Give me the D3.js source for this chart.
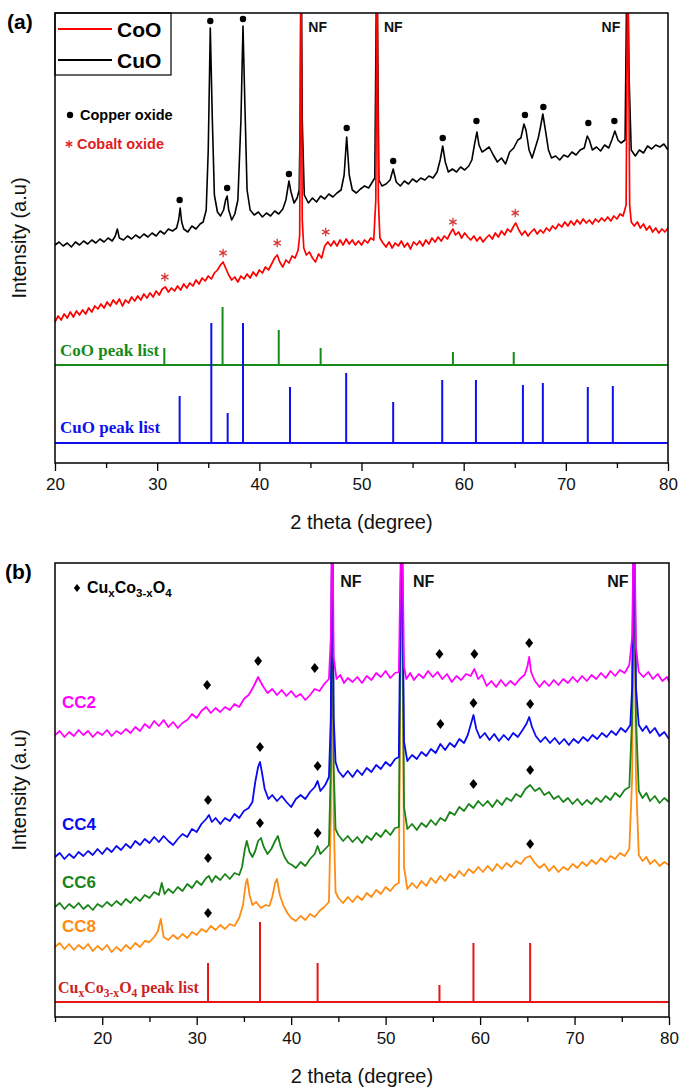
<!DOCTYPE html>
<html><head><meta charset="utf-8">
<script src="https://cdn.jsdelivr.net/npm/d3@7"></script>
<style>body{margin:0;background:#fff}</style>
</head><body>
<svg id="c" width="685" height="1090" xmlns="http://www.w3.org/2000/svg"></svg>
<script>
// ---------- DATA : panel (a) ----------
const ticksA = [20, 30, 40, 50, 60, 70, 80];
const minorTicksA = [25, 35, 45, 55, 65, 75];
const cuoPattern = [[20,218],[20.4,221],[20.8,217],[21.2,220],[21.6,216],[22,221],[22.4,218],[22.8,222],[23.2,219],[23.6,223],[24,220],[24.4,224],[24.8,221],[25.2,225],[25.6,222],[25.9,227],[26.1,234],[26.3,225],[26.7,223],[27.1,227],[27.5,224],[27.9,228],[28.3,225],[28.7,229],[29.1,226],[29.5,230],[29.9,227],[30.3,232],[30.7,229],[31.1,234],[31.5,232],[31.9,235],[32.1,243],[32.25,255],[32.4,241],[32.6,234],[33,231],[33.4,237],[33.8,234],[34.2,239],[34.5,241],[34.8,253],[35,313],[35.2,435],[35.4,343],[35.6,268],[35.9,251],[36.2,247],[36.5,253],[36.7,263],[36.85,267],[37,253],[37.3,243],[37.6,249],[37.9,263],[38.2,343],[38.4,437],[38.6,353],[38.8,273],[39.1,253],[39.5,248],[39.9,251],[40.3,246],[40.7,250],[41.1,247],[41.5,252],[41.9,249],[42.3,254],[42.6,263],[42.9,282],[43.1,271],[43.4,260],[43.7,265],[43.9,273],[44,343],[44.1,520],[44.2,343],[44.4,268],[44.8,260],[45.2,265],[45.6,261],[46,267],[46.4,264],[46.8,269],[47.2,266],[47.6,270],[48,273],[48.3,288],[48.55,326],[48.8,288],[49.1,273],[49.5,270],[49.9,274],[50.3,277],[50.7,275],[51,280],[51.3,285],[51.5,520],[51.7,283],[52,277],[52.4,279],[52.8,283],[53.1,294],[53.4,281],[53.8,277],[54.2,282],[54.6,279],[55,284],[55.4,281],[55.8,285],[56.2,283],[56.6,287],[57,285],[57.4,291],[57.7,303],[57.95,317],[58.2,301],[58.5,291],[58.9,294],[59.3,291],[59.7,296],[60.1,293],[60.5,297],[60.8,303],[61.05,318],[61.3,331],[61.5,318],[61.8,311],[62.1,313],[62.5,316],[62.9,308],[63.3,301],[63.7,305],[64.1,299],[64.5,311],[64.9,315],[65.3,323],[65.6,325],[65.9,339],[66.1,333],[66.4,313],[66.7,305],[67,315],[67.3,325],[67.5,335],[67.75,349],[68,333],[68.3,313],[68.6,305],[69,307],[69.4,303],[69.8,308],[70.2,306],[70.6,311],[71,308],[71.4,313],[71.8,315],[72.1,327],[72.3,323],[72.6,313],[73,316],[73.4,312],[73.8,318],[74.2,315],[74.5,323],[74.8,332],[75.1,323],[75.4,320],[75.8,323],[76,520],[76.2,383],[76.4,313],[76.8,307],[77.2,313],[77.6,310],[78,317],[78.4,314],[78.8,318],[79.2,316],[79.6,319],[80,313]];
const cooPattern = [[20,141],[20.3,147],[20.6,143],[20.9,149],[21.2,145],[21.5,151],[21.8,146],[22.1,152],[22.4,148],[22.7,153],[23,149],[23.3,155],[23.6,151],[23.9,157],[24.2,154],[24.5,159],[24.8,155],[25.1,161],[25.4,157],[25.7,163],[26,159],[26.3,164],[26.6,157],[26.9,163],[27.2,160],[27.5,166],[27.8,162],[28.1,167],[28.4,163],[28.7,169],[29,165],[29.3,170],[29.6,166],[29.9,172],[30.2,168],[30.5,174],[30.8,176],[31.1,171],[31.4,175],[31.7,172],[32,177],[32.3,173],[32.6,179],[32.9,175],[33.2,180],[33.5,177],[33.8,183],[34.1,179],[34.4,185],[34.7,182],[35,187],[35.3,184],[35.6,190],[35.9,193],[36.2,198],[36.45,201],[36.7,195],[37,188],[37.3,183],[37.6,186],[37.9,181],[38.2,187],[38.5,184],[38.8,189],[39.1,185],[39.4,191],[39.7,187],[40,193],[40.3,190],[40.6,196],[40.9,193],[41.2,199],[41.5,205],[41.75,208],[42,201],[42.3,196],[42.6,203],[42.9,200],[43.2,207],[43.5,205],[43.8,213],[43.95,228],[44.07,520],[44.2,243],[44.35,215],[44.6,208],[44.9,211],[45.2,205],[45.5,201],[45.8,209],[46.1,205],[46.4,217],[46.7,221],[47,217],[47.3,222],[47.6,217],[47.9,223],[48.2,218],[48.5,224],[48.8,219],[49.1,223],[49.4,218],[49.7,222],[50,218],[50.3,223],[50.6,220],[50.9,225],[51.2,223],[51.4,263],[51.52,520],[51.65,263],[51.8,225],[52.1,220],[52.4,216],[52.7,221],[53,215],[53.3,220],[53.6,217],[53.9,222],[54.2,216],[54.5,220],[54.8,214],[55.1,221],[55.4,218],[55.7,222],[56,217],[56.3,223],[56.6,219],[56.9,225],[57.2,221],[57.5,226],[57.8,222],[58.1,227],[58.4,224],[58.7,230],[58.95,234],[59.2,228],[59.5,231],[59.8,225],[60.1,230],[60.4,226],[60.7,223],[61,227],[61.3,222],[61.6,226],[61.9,221],[62.2,225],[62.5,228],[62.8,224],[63.1,230],[63.4,226],[63.7,232],[64,228],[64.3,234],[64.6,231],[64.9,237],[65.1,240],[65.4,233],[65.7,228],[66,232],[66.3,227],[66.6,231],[66.9,234],[67.2,229],[67.5,233],[67.8,230],[68.1,235],[68.4,232],[68.7,237],[69,234],[69.3,239],[69.6,236],[69.9,241],[70.2,237],[70.5,242],[70.8,238],[71.1,243],[71.4,239],[71.7,244],[72,240],[72.3,243],[72.6,239],[72.9,244],[73.2,241],[73.5,245],[73.8,242],[74.1,246],[74.4,242],[74.7,247],[75,244],[75.3,249],[75.6,247],[75.9,258],[76.07,520],[76.25,258],[76.4,241],[76.7,237],[77,241],[77.3,235],[77.6,239],[77.9,233],[78.2,237],[78.5,231],[78.8,235],[79.1,230],[79.4,234],[79.7,231],[80,235]];
const cuoDots = [[32.2,263],[35.2,442],[36.85,275],[38.4,444],[42.9,289],[48.55,335],[53.1,302],[57.95,325],[61.25,342],[66.0,348],[67.8,356],[72.2,340],[74.75,342]];
const cooStars = [[30.75,186],[36.45,210],[41.75,220],[46.5,231],[58.95,241],[65.05,250]];
const cooPeakList = [[30.7,17],[36.4,58],[41.9,35],[46.0,17],[58.95,13],[64.9,13]];
const cuoPeakList = [[32.2,47],[35.3,120],[36.9,30],[38.4,120],[43.0,56],[48.5,70],[53.1,41],[57.9,63],[61.2,63],[65.8,58],[67.75,60],[72.15,56],[74.6,57]];
const cooListBase = 98, cuoListBase = 20;
const nfA = [44.8, 52.2, 73.5];

// ---------- DATA : panel (b) ----------
const ticksB = [20, 30, 40, 50, 60, 70, 80];
const minorTicksB = [15, 25, 35, 45, 55, 65, 75];
const cc2Pattern = [[15,282],[15.5,286],[16,280],[16.5,285],[17,281],[17.5,287],[18,282],[18.5,286],[19,280],[19.5,285],[20,282],[20.5,287],[21,281],[21.5,286],[22,283],[22.5,288],[23,284],[23.5,290],[24,286],[24.5,293],[25,289],[25.5,296],[26,291],[26.5,297],[27,290],[27.5,295],[28,289],[28.5,294],[29,297],[29.5,303],[30,299],[30.5,306],[31,310],[31.5,304],[32,309],[32.5,305],[33,310],[33.5,307],[34,313],[34.5,310],[35,318],[35.5,322],[36,330],[36.5,340],[37,331],[37.5,324],[38,328],[38.5,322],[39,327],[39.5,321],[40,326],[40.5,320],[41,323],[41.5,317],[42,322],[42.5,328],[43,326],[43.5,333],[44,338],[44.2,380],[44.35,520],[44.5,360],[44.8,338],[45.2,342],[45.6,334],[46,339],[46.5,335],[47,340],[47.5,334],[48,341],[48.5,337],[49,344],[49.5,340],[50,346],[50.5,339],[51,344],[51.4,345],[51.7,520],[51.95,350],[52.2,338],[52.6,344],[53,337],[53.5,343],[54,339],[54.5,346],[55,340],[55.5,345],[56,338],[56.5,343],[57,335],[57.5,341],[58,337],[58.5,343],[59,341],[59.4,348],[59.8,338],[60.2,342],[60.7,331],[61.2,336],[61.7,330],[62.2,337],[62.7,331],[63.2,336],[63.7,332],[64.2,338],[64.7,342],[65,350],[65.2,360],[65.4,345],[65.8,336],[66.3,330],[66.8,336],[67.3,331],[67.8,337],[68.3,332],[68.8,338],[69.3,334],[69.8,340],[70.3,335],[70.8,341],[71.3,336],[71.8,342],[72.3,338],[72.8,344],[73.3,339],[73.8,346],[74.3,341],[74.8,347],[75.3,344],[75.8,352],[76.1,380],[76.3,520],[76.5,370],[76.8,345],[77.3,340],[77.8,345],[78.3,338],[78.8,343],[79.3,336],[79.8,340],[80,335]];
const cc4Pattern = [[15,160],[15.5,164],[16,158],[16.5,163],[17,159],[17.5,165],[18,161],[18.5,166],[19,162],[19.5,168],[20,163],[20.5,169],[21,165],[21.5,171],[22,167],[22.5,173],[23,169],[23.5,176],[24,172],[24.5,178],[25,174],[25.5,180],[26,175],[26.5,181],[27,176],[27.5,172],[28,178],[28.5,183],[29,180],[29.5,188],[30,185],[30.5,193],[31,198],[31.3,202],[31.6,195],[32,199],[32.5,193],[33,199],[33.5,196],[34,203],[34.5,199],[35,206],[35.5,209],[35.9,215],[36.2,235],[36.5,250],[36.7,255],[36.9,245],[37.2,228],[37.6,218],[38,222],[38.5,216],[39,221],[39.5,215],[40,210],[40.5,218],[41,222],[41.5,218],[42,225],[42.5,230],[42.8,236],[43.1,226],[43.6,232],[44,240],[44.2,300],[44.35,520],[44.5,300],[44.7,255],[45,246],[45.5,240],[46,246],[46.5,240],[47,247],[47.5,242],[48,249],[48.5,245],[49,252],[49.5,248],[50,255],[50.5,251],[51,258],[51.4,260],[51.7,520],[51.95,275],[52.3,256],[52.8,262],[53.3,258],[53.8,265],[54.3,261],[54.8,268],[55.3,264],[55.8,273],[56.3,267],[56.8,274],[57.3,270],[57.8,278],[58.3,274],[58.7,282],[59,292],[59.3,302],[59.6,288],[60,279],[60.5,284],[61,277],[61.5,283],[62,276],[62.5,282],[63,277],[63.5,284],[64,280],[64.5,287],[64.9,293],[65.2,300],[65.5,290],[65.9,281],[66.4,275],[66.9,280],[67.4,274],[67.9,279],[68.4,273],[68.9,278],[69.4,272],[69.9,278],[70.4,274],[70.9,280],[71.4,276],[71.9,282],[72.4,278],[72.9,284],[73.4,280],[73.9,286],[74.4,282],[74.9,289],[75.4,285],[75.9,292],[76.1,330],[76.3,520],[76.5,330],[76.8,292],[77.2,286],[77.6,291],[78,284],[78.5,289],[79,281],[79.5,285],[80,278]];
const cc6Pattern = [[15,110],[15.5,114],[16,108],[16.5,113],[17,109],[17.5,114],[18,108],[18.5,112],[19,107],[19.5,113],[20,110],[20.5,115],[21,111],[21.5,116],[22,112],[22.5,118],[23,114],[23.5,120],[24,116],[24.5,122],[25,119],[25.5,125],[26,122],[26.3,134],[26.6,123],[27,128],[27.5,124],[28,130],[28.5,126],[29,133],[29.5,129],[30,136],[30.5,132],[31,139],[31.3,141],[31.6,135],[32,141],[32.5,137],[33,143],[33.5,138],[34,144],[34.5,142],[34.8,150],[35.1,168],[35.3,176],[35.6,165],[35.9,160],[36.2,166],[36.5,176],[36.8,179],[37.1,170],[37.5,163],[37.9,168],[38.3,176],[38.6,181],[38.9,170],[39.3,160],[39.7,154],[40.1,152],[40.5,149],[41,155],[41.5,151],[42,158],[42.5,163],[42.8,171],[43.1,163],[43.6,168],[44,172],[44.2,250],[44.35,520],[44.5,250],[44.7,188],[45,182],[45.5,176],[46,181],[46.5,175],[47,180],[47.5,174],[48,181],[48.5,177],[49,184],[49.5,180],[50,187],[50.5,182],[51,189],[51.4,190],[51.7,520],[51.95,210],[52.3,188],[52.8,193],[53.3,187],[53.8,194],[54.3,190],[54.8,197],[55.3,192],[55.8,199],[56.3,196],[56.8,205],[57.3,202],[57.8,210],[58.3,206],[58.8,213],[59.3,209],[59.8,216],[60.3,211],[60.8,216],[61.3,210],[61.8,217],[62.3,212],[62.8,219],[63.3,216],[63.8,223],[64.3,220],[64.8,228],[65.3,232],[65.8,226],[66.3,229],[66.8,222],[67.3,225],[67.8,218],[68.3,221],[68.8,215],[69.3,219],[69.8,213],[70.3,218],[70.8,212],[71.3,217],[71.8,213],[72.3,219],[72.8,215],[73.3,221],[73.8,217],[74.3,224],[74.8,220],[75.3,227],[75.8,230],[76.1,300],[76.3,520],[76.5,300],[76.8,226],[77.2,219],[77.6,224],[78,216],[78.5,221],[79,214],[79.5,219],[80,215]];
const cc8Pattern = [[15,70],[15.5,74],[16,68],[16.5,73],[17,67],[17.5,72],[18,68],[18.5,73],[19,66],[19.5,71],[20,67],[20.5,72],[21,65],[21.5,70],[22,66],[22.5,72],[23,68],[23.5,74],[24,70],[24.5,76],[25,75],[25.5,80],[25.9,86],[26.2,98],[26.5,80],[27,77],[27.5,82],[28,78],[28.5,83],[29,79],[29.5,85],[30,82],[30.5,88],[31,85],[31.5,91],[32,87],[32.5,92],[33,88],[33.5,93],[34,91],[34.5,99],[34.9,112],[35.2,134],[35.35,138],[35.6,122],[35.9,112],[36.3,115],[36.8,109],[37.3,112],[37.7,111],[38,120],[38.3,134],[38.5,138],[38.8,122],[39.2,111],[39.6,104],[40,99],[40.5,96],[41,101],[41.5,97],[42,103],[42.5,100],[43,106],[43.5,110],[44,115],[44.2,200],[44.35,520],[44.5,200],[44.7,125],[45,119],[45.5,114],[46,120],[46.5,115],[47,121],[47.5,117],[48,124],[48.5,120],[49,127],[49.5,123],[50,130],[50.5,126],[51,132],[51.4,134],[51.7,520],[51.95,150],[52.3,128],[52.8,134],[53.3,129],[53.8,136],[54.3,131],[54.8,139],[55.3,134],[55.8,141],[56.3,136],[56.8,143],[57.3,139],[57.8,146],[58.3,141],[58.8,148],[59.3,144],[59.8,150],[60.3,145],[60.8,151],[61.3,146],[61.8,153],[62.3,148],[62.8,154],[63.3,150],[63.8,156],[64.3,153],[64.8,159],[65.3,161],[65.8,154],[66.3,149],[66.8,153],[67.3,146],[67.8,151],[68.3,145],[68.8,150],[69.3,147],[69.8,153],[70.3,149],[70.8,155],[71.3,151],[71.8,157],[72.3,153],[72.8,159],[73.3,155],[73.8,161],[74.3,158],[74.8,164],[75.3,161],[75.8,168],[76.1,240],[76.3,520],[76.5,240],[76.8,162],[77.2,156],[77.6,160],[78,153],[78.5,157],[79,151],[79.5,155],[80,152]];
const cc2Marks = [[31.1,332],[36.5,356],[42.5,349],[55.7,363],[59.4,363],[65.2,374]];
const cc4Marks = [[31.2,217],[36.7,270],[42.8,251],[55.8,293],[59.3,314],[65.3,313]];
const cc6Marks = [[31.2,159],[36.7,194],[42.8,184],[59.3,233],[65.3,247]];
const cc8Marks = [[31.2,104],[65.3,173]];
const spinelPeakList = [[31.2,39],[36.7,80],[42.8,39],[55.7,17],[59.3,59],[65.3,59]];
const spinelListBase = 15;
const nfB = [45.2, 52.9, 73.45];
const sampleNames = ["CC2", "CC4", "CC6", "CC8"];
const sampleLabelLevels = [309, 187, 129, 85];

// ---------- DRAW ----------
const SANS = "'Liberation Sans', Arial, sans-serif";
const SERIF = "'Liberation Serif', 'Times New Roman', serif";
const svg = d3.select("#c");

const xA = d3.scaleLinear().domain([20, 80]).range([55, 668]);
const yA = d3.scaleLinear().domain([0, 450]).range([463, 13]);
const xB = d3.scaleLinear().domain([15, 80]).range([55, 669]);
const yB = d3.scaleLinear().domain([0, 454]).range([1017, 563]);

const defs = svg.append("defs");
function clip(id, x, y) {
  defs.append("clipPath").attr("id", id).append("rect")
    .attr("x", x.range()[0]).attr("y", y.range()[1])
    .attr("width", x.range()[1] - x.range()[0]).attr("height", y.range()[0] - y.range()[1]);
}
clip("clipA", xA, yA); clip("clipB", xB, yB);

const diamondType = {draw(ctx, size) {const h = Math.sqrt(size) * 0.62, w = h * 0.8;
  ctx.moveTo(0, -h); ctx.lineTo(w, 0); ctx.lineTo(0, h); ctx.lineTo(-w, 0); ctx.closePath();}};

function axis(x, y, major, minor, title) {
  const y0 = y.range()[0];
  const g = svg.append("g").attr("transform", `translate(0,${y0})`);
  g.call(d3.axisBottom(x).tickValues(major).tickSize(8).tickPadding(7).tickFormat(d3.format("d")));
  g.append("g").call(d3.axisBottom(x).tickValues(minor).tickSize(5).tickFormat(""));
  g.selectAll(".domain").remove();
  g.selectAll("line").attr("stroke", "#000").attr("stroke-width", 1.3);
  g.selectAll("text").attr("font-family", SANS).attr("font-size", 17).attr("fill", "#111");
  svg.append("rect").attr("x", x.range()[0]).attr("y", y.range()[1])
    .attr("width", x.range()[1] - x.range()[0]).attr("height", y0 - y.range()[1])
    .attr("fill", "none").attr("stroke", "#000").attr("stroke-width", 1.5);
  svg.append("text").attr("x", (x.range()[0] + x.range()[1]) / 2).attr("y", y0 + 66)
    .attr("text-anchor", "middle").attr("font-family", SANS).attr("font-size", 20).attr("fill", "#111").text(title);
  svg.append("text").attr("transform", `translate(26,${(y0 + y.range()[1]) / 2}) rotate(-90)`)
    .attr("text-anchor", "middle").attr("font-family", SANS).attr("font-size", 20).attr("fill", "#111").text("Intensity (a.u)");
}

function curve(g, x, y, data, color, w) {
  g.append("path").datum(data).attr("fill", "none").attr("stroke", color).attr("stroke-width", w || 1.4)
    .attr("stroke-linejoin", "round")
    .attr("d", d3.line().x(d => x(d[0])).y(d => y(d[1])));
}
function sticks(g, x, y, list, base, color, w) {
  g.append("line").attr("x1", x.range()[0]).attr("x2", x.range()[1]).attr("y1", y(base)).attr("y2", y(base))
    .attr("stroke", color).attr("stroke-width", 2);
  g.selectAll(null).data(list).join("line")
    .attr("x1", d => x(d[0])).attr("x2", d => x(d[0]))
    .attr("y1", y(base)).attr("y2", d => y(base + d[1]))
    .attr("stroke", color).attr("stroke-width", w || 2);
}

// ----- panel (a) -----
const gA = svg.append("g").attr("clip-path", "url(#clipA)");
sticks(gA, xA, yA, cooPeakList, cooListBase, "#178a17", 2);
sticks(gA, xA, yA, cuoPeakList, cuoListBase, "#1010ee", 2);
curve(gA, xA, yA, cuoPattern, "#000", 1.6);
curve(gA, xA, yA, cooPattern, "#ff0000", 1.7);
gA.selectAll(null).data(cuoDots).join("circle")
  .attr("cx", d => xA(d[0])).attr("cy", d => yA(d[1])).attr("r", 3.2).attr("fill", "#000");
gA.selectAll(null).data(cooStars).join("path")
  .attr("transform", d => `translate(${xA(d[0])},${yA(d[1])})`)
  .attr("d", d3.symbol(d3.symbolAsterisk, 50)).attr("stroke", "#d63a3a").attr("stroke-width", 1.3).attr("fill", "none");

svg.selectAll(null).data(nfA).join("text")
  .attr("x", d => xA(d)).attr("y", 32).attr("font-family", SANS).attr("font-weight", "bold")
  .attr("font-size", 14).attr("fill", "#111").text("NF");
svg.append("text").attr("x", xA(20) + 5).attr("y", yA(cooListBase) - 9).attr("font-family", SERIF)
  .attr("font-weight", "bold").attr("font-size", 17).attr("fill", "#178a17").text("CoO peak list");
svg.append("text").attr("x", xA(20) + 5).attr("y", yA(cuoListBase) - 10).attr("font-family", SERIF)
  .attr("font-weight", "bold").attr("font-size", 17).attr("fill", "#1010ee").text("CuO peak list");

// legend (a)
const lgA = svg.append("g");
lgA.append("rect").attr("x", 55).attr("y", 13).attr("width", 116).attr("height", 62)
  .attr("fill", "#fff").attr("stroke", "#000").attr("stroke-width", 1.2);
[["CoO", "#ff0000", 29], ["CuO", "#000", 60]].forEach(([t, c, yy]) => {
  lgA.append("line").attr("x1", 58).attr("x2", 112).attr("y1", yy).attr("y2", yy).attr("stroke", c).attr("stroke-width", 1.8);
  lgA.append("text").attr("x", 117).attr("y", yy + 8).attr("font-family", SANS).attr("font-weight", "bold")
    .attr("font-size", 21).attr("fill", "#000").text(t);
});
lgA.append("circle").attr("cx", 70).attr("cy", 115).attr("r", 3.2).attr("fill", "#000");
lgA.append("text").attr("x", 80).attr("y", 120).attr("font-family", SANS).attr("font-weight", "bold")
  .attr("font-size", 14.5).attr("fill", "#000").text("Copper oxide");
lgA.append("path").attr("transform", "translate(69,144)").attr("d", d3.symbol(d3.symbolAsterisk, 40))
  .attr("stroke", "#e02020").attr("stroke-width", 1.3).attr("fill", "none");
lgA.append("text").attr("x", 77).attr("y", 149).attr("font-family", SANS).attr("font-weight", "bold")
  .attr("font-size", 14.5).attr("fill", "#e02020").text("Cobalt oxide");
svg.append("text").attr("x", 7).attr("y", 29).attr("font-family", SANS).attr("font-weight", "bold")
  .attr("font-size", 21).attr("fill", "#000").text("(a)");

axis(xA, yA, ticksA, minorTicksA, "2 theta (degree)");

// ----- panel (b) -----
const gB = svg.append("g").attr("clip-path", "url(#clipB)");
sticks(gB, xB, yB, spinelPeakList, spinelListBase, "#e81515", 2);
const series = [[cc8Pattern, "#ff8c12"], [cc6Pattern, "#1a841a"], [cc4Pattern, "#0a0af0"], [cc2Pattern, "#ff00ff"]];
series.forEach(([d, c]) => curve(gB, xB, yB, d, c, 1.8));
const marks = [].concat(cc2Marks, cc4Marks, cc6Marks, cc8Marks);
gB.selectAll(null).data(marks).join("path")
  .attr("transform", d => `translate(${xB(d[0])},${yB(d[1])})`)
  .attr("d", d3.symbol(diamondType, 64)).attr("fill", "#000");

const sampleColors = ["#ff00ff", "#0a0af0", "#1a841a", "#ff8c12"];
svg.selectAll(null).data(sampleNames).join("text")
  .attr("x", 62).attr("y", (d, i) => yB(sampleLabelLevels[i]))
  .attr("font-family", SANS).attr("font-weight", "bold").attr("font-size", 17)
  .attr("fill", (d, i) => sampleColors[i]).text(d => d);

svg.selectAll(null).data(nfB).join("text")
  .attr("x", d => xB(d)).attr("y", 587).attr("font-family", SANS).attr("font-weight", "bold")
  .attr("font-size", 16).attr("fill", "#111").text("NF");

function formula(sel, size, sub) {
  const parts = [["Cu", 0], ["x", 1], ["Co", 0], ["3-x", 1], ["O", 0], ["4", 1]];
  let prev = 0;
  parts.forEach(([t, s]) => {
    const dy = (s - prev) * sub; prev = s;
    sel.append("tspan").attr("dy", dy).attr("font-size", s ? size * 0.72 : size).text(t);
  });
  return prev * sub;
}
// legend (b)
svg.append("path").attr("transform", "translate(77,588)").attr("d", d3.symbol(diamondType, 40)).attr("fill", "#000");
const fl = svg.append("text").attr("x", 87).attr("y", 593).attr("font-family", SANS).attr("font-weight", "bold").attr("fill", "#000");
formula(fl, 16, 4);
// peak list label (b)
const pl = svg.append("text").attr("x", xB(15) + 3).attr("y", yB(spinelListBase) - 9).attr("font-family", SERIF)
  .attr("font-weight", "bold").attr("fill", "#cc1f1f");
const last = formula(pl, 16, 4);
pl.append("tspan").attr("dy", -last).attr("font-size", 16).text(" peak list");

svg.append("text").attr("x", 5).attr("y", 579).attr("font-family", SANS).attr("font-weight", "bold")
  .attr("font-size", 21).attr("fill", "#000").text("(b)");

axis(xB, yB, ticksB, minorTicksB, "2 theta (degree)");
</script>
</body></html>
